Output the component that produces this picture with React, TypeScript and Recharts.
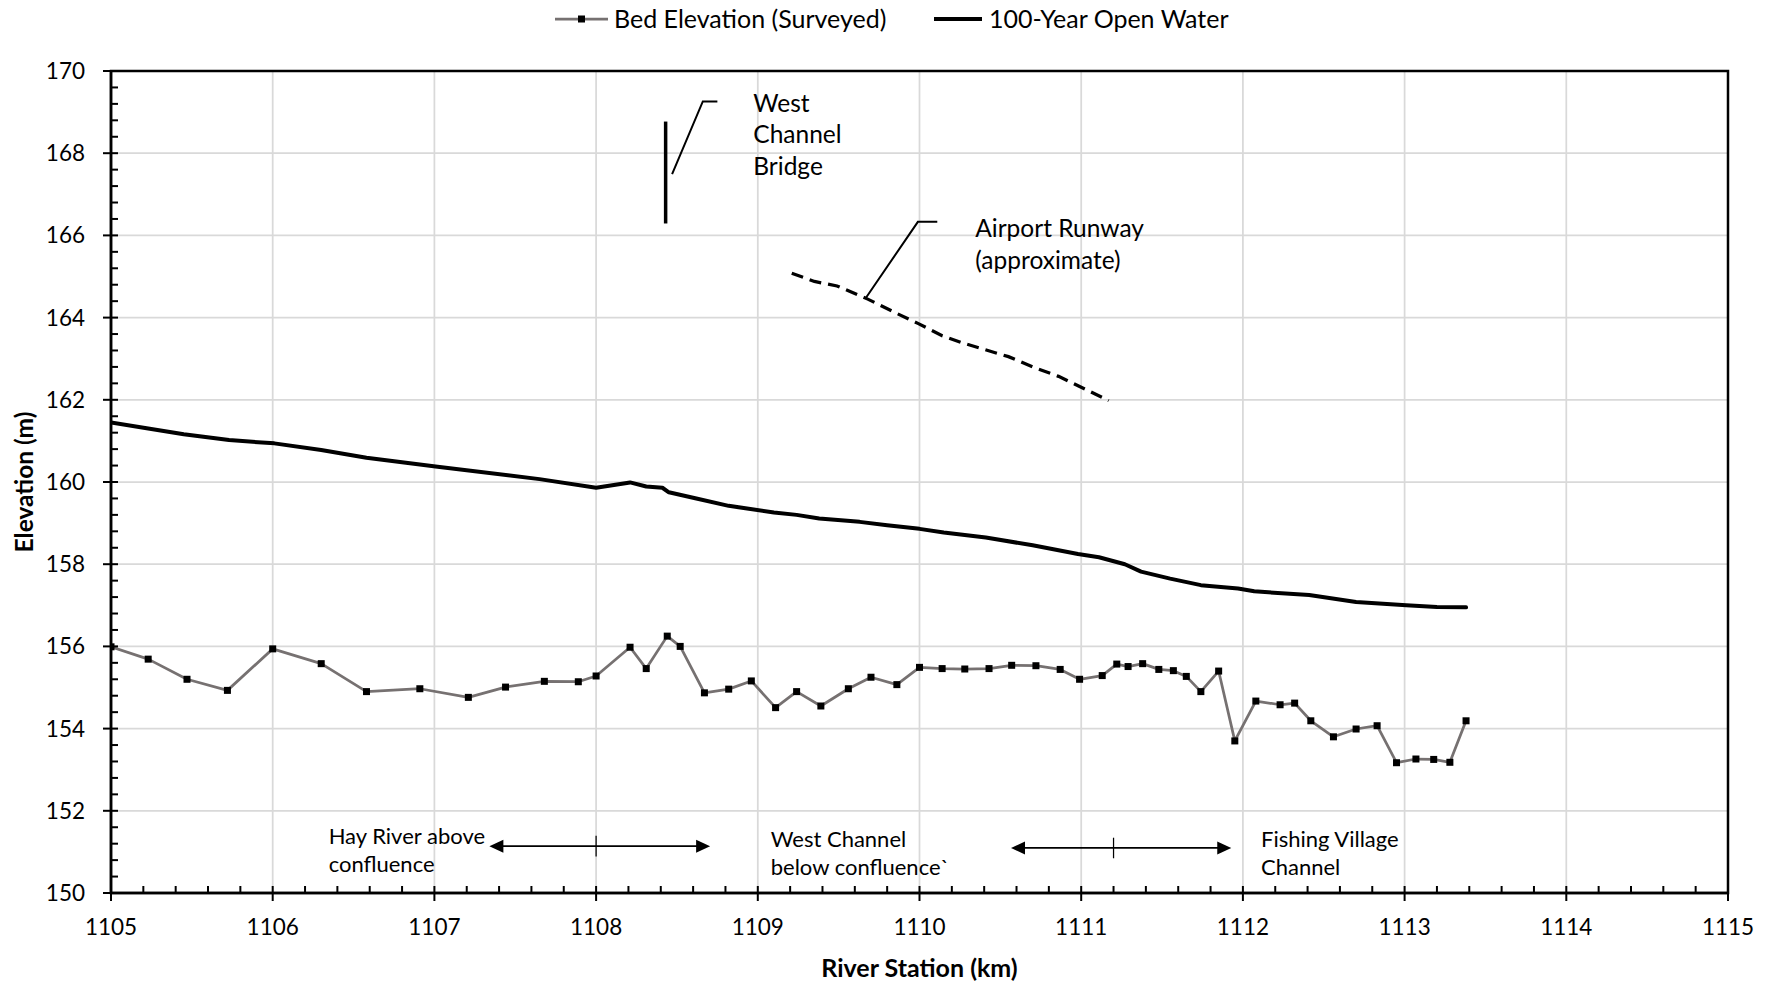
import React from "react";
import {
  LineChart,
  Line,
  XAxis,
  YAxis,
  CartesianGrid,
  Legend,
  ReferenceArea,
  ReferenceLine,
  ReferenceDot,
} from "recharts";

// ---- Surveyed bed profile (river station km, elevation m) ----
const bedStation = [
  1105.0, 1105.23, 1105.47, 1105.72, 1106.0, 1106.3, 1106.58, 1106.91, 1107.21, 1107.44,
  1107.68, 1107.89, 1108.0, 1108.21, 1108.31, 1108.44, 1108.52, 1108.67, 1108.82, 1108.96,
  1109.11, 1109.24, 1109.39, 1109.56, 1109.7, 1109.86, 1110.0, 1110.14, 1110.28, 1110.43,
  1110.57, 1110.72, 1110.87, 1110.99, 1111.13, 1111.22, 1111.29, 1111.38, 1111.48, 1111.57,
  1111.65, 1111.74, 1111.85, 1111.95, 1112.08, 1112.23, 1112.32, 1112.42, 1112.56, 1112.7,
  1112.83, 1112.95, 1113.07, 1113.18, 1113.28, 1113.38,
];
const bedElevation = [
  155.99, 155.69, 155.2, 154.93, 155.94, 155.58, 154.9, 154.97, 154.76, 155.01,
  155.15, 155.14, 155.28, 155.98, 155.46, 156.25, 156.0, 154.87, 154.96, 155.16,
  154.51, 154.9, 154.55, 154.97, 155.25, 155.07, 155.49, 155.46, 155.45, 155.46,
  155.54, 155.53, 155.44, 155.2, 155.29, 155.57, 155.51, 155.58, 155.44, 155.41,
  155.27, 154.9, 155.4, 153.7, 154.67, 154.58, 154.62, 154.19, 153.8, 153.99,
  154.07, 153.17, 153.26, 153.25, 153.18, 154.19,
];

// ---- 100-year open water profile ----
const waterStation = [
  1105.0, 1105.23, 1105.45, 1105.73, 1106.01, 1106.3, 1106.58, 1107.02, 1107.65, 1108.0,
  1108.21, 1108.31, 1108.41, 1108.45, 1108.62, 1108.82, 1109.1, 1109.24, 1109.38, 1109.63,
  1109.8, 1110.0, 1110.15, 1110.41, 1110.7, 1110.98, 1111.11, 1111.27, 1111.37, 1111.55,
  1111.74, 1111.97, 1112.07, 1112.41, 1112.7, 1113.01, 1113.2, 1113.38,
];
const waterElevation = [
  161.45, 161.3, 161.16, 161.02, 160.94, 160.78, 160.59, 160.37, 160.07, 159.86,
  159.99, 159.89, 159.86, 159.75, 159.6, 159.42, 159.26, 159.2, 159.11, 159.03,
  158.95, 158.86, 158.77, 158.65, 158.46, 158.25, 158.17, 158.0, 157.82, 157.65,
  157.49, 157.41, 157.34, 157.25, 157.08, 157.0, 156.96, 156.95,
];

// ---- Airport runway (approximate) ----
const runwayStation = [
  1109.21, 1109.35, 1109.49, 1109.68, 1109.85, 1109.99, 1110.14, 1110.27, 1110.55, 1110.7,
  1110.86, 1111.03, 1111.17,
];
const runwayElevation = [
  165.08, 164.88, 164.77, 164.45, 164.12, 163.86, 163.56, 163.38, 163.05, 162.8,
  162.57, 162.25, 161.98,
];

// ---- West Channel Bridge ----
const bridgeStation = [1108.43, 1108.43];
const bridgeElevation = [168.77, 166.29];

// ---- Callout leaders ----
const bridgeLeaderStation = [1108.47, 1108.66, 1108.75];
const bridgeLeaderElevation = [167.49, 169.26, 169.26];
const runwayLeaderStation = [1109.67, 1109.99, 1110.11];
const runwayLeaderElevation = [164.49, 166.33, 166.33];

// ---- Reach extents (double-headed arrows with a centre mark) ----
const reachFrom = [1107.34, 1110.566];
const reachTo = [1108.705, 1111.928];
const reachLevel = [151.14, 151.095];
const reachMark = [1108.0, 1111.2];

// ---- Text callouts ----
const noteStation = [1108.972, 1110.345, 1106.346, 1109.08, 1112.112];
const noteElevation = [169.01, 165.96, 151.2, 151.12, 151.12];
const noteLines = [
  ["West", "Channel", "Bridge"],
  ["Airport Runway", "(approximate)"],
  ["Hay River above", "confluence"],
  ["West Channel", "below confluence`"],
  ["Fishing Village", "Channel"],
];
const noteLeading = [31.7, 31.5, 28.4, 28.4, 28.4];
const noteSize = [24.5, 24.5, 22, 22, 22];

// ---- Axes ----
const xMajorTicks = [1105, 1106, 1107, 1108, 1109, 1110, 1111, 1112, 1113, 1114, 1115];
const yMajorTicks = [150, 152, 154, 156, 158, 160, 162, 164, 166, 168, 170];
const xMinorStep = 0.2;
const yMinorStep = 0.4;

const zip = (xs: number[], ys: number[]) => xs.map((x, i) => ({ x, y: ys[i] }));
const minorTicks = (majors: number[], step: number) => {
  const out: number[] = [];
  const lo = majors[0];
  const hi = majors[majors.length - 1];
  const n = Math.round((hi - lo) / step);
  for (let i = 0; i <= n; i++) out.push(Number((lo + i * step).toFixed(3)));
  return out;
};
const isWhole = (v: number, unit: number) =>
  Math.abs(v / unit - Math.round(v / unit)) < 1e-6;

const bedData = zip(bedStation, bedElevation);
const waterData = zip(waterStation, waterElevation);
const runwayData = zip(runwayStation, runwayElevation);
const bridgeData = zip(bridgeStation, bridgeElevation);
const bridgeLeaderData = zip(bridgeLeaderStation, bridgeLeaderElevation);
const runwayLeaderData = zip(runwayLeaderStation, runwayLeaderElevation);

const FONT = "Lato, 'Open Sans', sans-serif";
const BED_GREY = "#767171";
const GRID = "#d9d9d9";

const XTick = (props: any) => {
  const { x, y, payload } = props;
  const v = payload.value as number;
  const major = isWhole(v, 1);
  return (
    <g>
      <line x1={x} x2={x} y1={y} y2={y - 7} stroke="#000" strokeWidth={2} />
      {major && (
        <>
          <line x1={x} x2={x} y1={y} y2={y + 8} stroke="#000" strokeWidth={2} />
          <text x={x} y={y + 42} textAnchor="middle" fontSize={22.5} fontFamily={FONT} fill="#000">
            {v}
          </text>
        </>
      )}
    </g>
  );
};

const YTick = (props: any) => {
  const { x, y, payload } = props;
  const v = payload.value as number;
  const major = isWhole(v, 2);
  return (
    <g>
      <line x1={x} x2={x + 7} y1={y} y2={y} stroke="#000" strokeWidth={2} />
      {major && (
        <>
          <line x1={x - 8} x2={x} y1={y} y2={y} stroke="#000" strokeWidth={2} />
          <text x={x - 26} y={y + 8} textAnchor="end" fontSize={22.5} fontFamily={FONT} fill="#000">
            {v}
          </text>
        </>
      )}
    </g>
  );
};

const SquareDot = (props: any) => {
  const { cx, cy, index } = props;
  if (cx == null || cy == null) return <g key={`d-${index}`} />;
  return <rect key={`d-${index}`} x={cx - 3.5} y={cy - 3.5} width={7} height={7} fill="#000" />;
};

const ReachArrow = (props: any) => {
  const { x1, y1, x2, y2 } = props;
  const head = 14;
  const half = 6.5;
  const left = Math.min(x1, x2);
  const right = Math.max(x1, x2);
  const y = (y1 + y2) / 2;
  return (
    <g>
      <line x1={left + head - 1} x2={right - head + 1} y1={y} y2={y} stroke="#000" strokeWidth={1.75} />
      <polygon points={`${left},${y} ${left + head},${y - half} ${left + head},${y + half}`} fill="#000" />
      <polygon points={`${right},${y} ${right - head},${y - half} ${right - head},${y + half}`} fill="#000" />
    </g>
  );
};

const noteShape = (lines: string[], leading: number, size: number) => (props: any) => {
  const { cx, cy } = props;
  return (
    <text x={cx} y={cy} fontSize={size} fontFamily={FONT} fill="#000">
      {lines.map((t, i) => (
        <tspan key={i} x={cx} dy={i === 0 ? 0 : leading}>
          {t}
        </tspan>
      ))}
    </text>
  );
};

const LegendBox = () => (
  <svg width={1728} height={71} style={{ display: "block" }}>
    <line x1={555} x2={608} y1={19} y2={19} stroke={BED_GREY} strokeWidth={2.75} />
    <rect x={578} y={15.5} width={7} height={7} fill="#000" />
    <text x={614} y={28} fontSize={25} fontFamily={FONT} fill="#000">
      Bed Elevation (Surveyed)
    </text>
    <line x1={934} x2={982} y1={19} y2={19} stroke="#000" strokeWidth={4} />
    <text x={989} y={28} fontSize={25} fontFamily={FONT} fill="#000">
      100-Year Open Water
    </text>
  </svg>
);

export default function App() {
  const xTicks = minorTicks(xMajorTicks, xMinorStep);
  const yTicks = minorTicks(yMajorTicks, yMinorStep);
  return (
    <div style={{ position: "absolute", left: 0, top: 0, width: 1776, height: 983, background: "#fff" }}>
      <LineChart width={1776} height={983} margin={{ top: 0, right: 48, bottom: 0, left: 0 }}>
        <Legend
          verticalAlign="top"
          align="left"
          content={() => <LegendBox />}
          wrapperStyle={{ height: 71, lineHeight: 0 }}
        />
        <CartesianGrid
          stroke={GRID}
          strokeWidth={1.75}
          horizontalValues={yMajorTicks}
          verticalValues={xMajorTicks}
        />
        <XAxis
          type="number"
          dataKey="x"
          domain={[1105, 1115]}
          ticks={xTicks}
          interval={0}
          height={90}
          tickSize={0}
          tickMargin={0}
          tickLine={false}
          tick={<XTick />}
          axisLine={{ stroke: "#000", strokeWidth: 2.5 }}
          allowDataOverflow
          label={{
            content: (p: any) => {
              const vb = p.viewBox;
              return (
                <text
                  x={vb.x + vb.width / 2}
                  y={vb.y + 84}
                  textAnchor="middle"
                  fontSize={25}
                  fontWeight={700}
                  fontFamily={FONT}
                  fill="#000"
                >
                  River Station (km)
                </text>
              );
            },
          }}
        />
        <YAxis
          type="number"
          domain={[150, 170]}
          ticks={yTicks}
          interval={0}
          width={111}
          tickSize={0}
          tickMargin={0}
          tickLine={false}
          tick={<YTick />}
          axisLine={{ stroke: "#000", strokeWidth: 2.5 }}
          allowDataOverflow
          label={{
            content: (p: any) => {
              const vb = p.viewBox;
              const cx = vb.x + 23;
              const cy = vb.y + vb.height / 2;
              return (
                <text
                  x={cx}
                  y={cy}
                  transform={`rotate(-90 ${cx} ${cy})`}
                  textAnchor="middle"
                  dominantBaseline="central"
                  fontSize={24.5}
                  fontWeight={700}
                  fontFamily={FONT}
                  fill="#000"
                >
                  Elevation (m)
                </text>
              );
            },
          }}
        />
        <ReferenceArea
          x1={1105}
          x2={1115}
          y1={150}
          y2={170}
          fill="none"
          stroke="#000"
          strokeWidth={2.5}
          ifOverflow="visible"
        />

        <Line
          data={waterData}
          dataKey="y"
          stroke="#000"
          strokeWidth={4}
          dot={false}
          activeDot={false}
          type="linear"
          strokeLinejoin="round"
          strokeLinecap="round"
          isAnimationActive={false}
        />
        <Line
          data={bedData}
          dataKey="y"
          stroke={BED_GREY}
          strokeWidth={2.75}
          dot={<SquareDot />}
          activeDot={false}
          type="linear"
          strokeLinejoin="round"
          isAnimationActive={false}
        />
        <Line
          data={runwayData}
          dataKey="y"
          stroke="#000"
          strokeWidth={3.25}
          strokeDasharray="12 7"
          dot={false}
          activeDot={false}
          type="linear"
          isAnimationActive={false}
        />
        <Line
          data={bridgeData}
          dataKey="y"
          stroke="#000"
          strokeWidth={3.5}
          dot={false}
          activeDot={false}
          type="linear"
          isAnimationActive={false}
        />
        <Line
          data={bridgeLeaderData}
          dataKey="y"
          stroke="#000"
          strokeWidth={2}
          dot={false}
          activeDot={false}
          type="linear"
          isAnimationActive={false}
        />
        <Line
          data={runwayLeaderData}
          dataKey="y"
          stroke="#000"
          strokeWidth={2}
          dot={false}
          activeDot={false}
          type="linear"
          isAnimationActive={false}
        />

        {reachFrom.map((from, i) => (
          <ReferenceLine
            key={`reach-${i}`}
            segment={[
              { x: from, y: reachLevel[i] },
              { x: reachTo[i], y: reachLevel[i] },
            ]}
            ifOverflow="visible"
            shape={(p: any) => <ReachArrow {...p} />}
          />
        ))}
        {reachMark.map((m, i) => (
          <ReferenceLine
            key={`mark-${i}`}
            segment={[
              { x: m, y: reachLevel[i] - 0.25 },
              { x: m, y: reachLevel[i] + 0.25 },
            ]}
            stroke="#000"
            strokeWidth={1.25}
            ifOverflow="visible"
          />
        ))}
        {noteStation.map((s, i) => (
          <ReferenceDot
            key={`note-${i}`}
            x={s}
            y={noteElevation[i]}
            r={0}
            ifOverflow="visible"
            shape={noteShape(noteLines[i], noteLeading[i], noteSize[i])}
          />
        ))}
      </LineChart>
    </div>
  );
}
